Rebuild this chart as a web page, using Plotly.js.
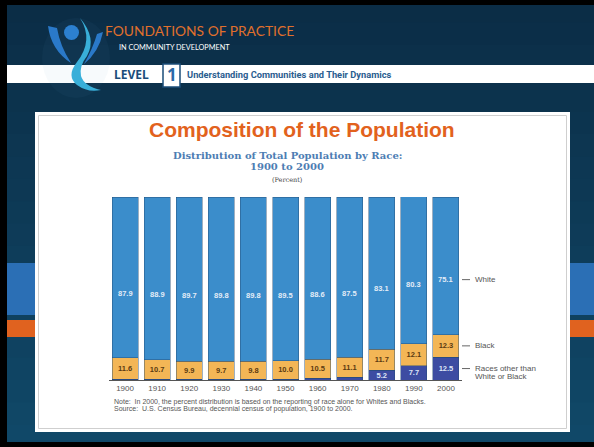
<!DOCTYPE html>
<html>
<head>
<meta charset="utf-8">
<script src="https://cdn.plot.ly/plotly-3.0.1.min.js"></script>
<style>html,body{margin:0;padding:0;background:#0d3a58;}#chart{width:594px;height:447px;}</style>
</head>
<body>
<div id="chart"></div>
<script>
// ---- data ----
const years = ['1900','1910','1920','1930','1940','1950','1960','1970','1980','1990','2000'];
const white = [87.9, 88.9, 89.7, 89.8, 89.8, 89.5, 88.6, 87.5, 83.1, 80.3, 75.1];
const black = [11.6, 10.7, 9.9, 9.7, 9.8, 10.0, 10.5, 11.1, 11.7, 12.1, 12.3];
const other = [0.5, 0.4, 0.4, 0.5, 0.4, 0.5, 0.9, 1.4, 5.2, 7.7, 12.5];
const seriesNames = ['White', 'Black', 'Races other than', 'White or Black'];

const W = 594, H = 447;
const px = x => x / W;
const py = y => 1 - y / H;
const pt = (x, y) => px(x) + ',' + py(y);

const blueC = '#3b8dcb', orangeC = '#f3b656', indigoC = '#3d4ca2';
const edge = 'rgba(35,75,115,0.55)';

const traces = [
  {type:'bar', x: years, y: other, name: 'other',
   marker:{color: indigoC, line:{color: edge, width: 0.8}},
   text: other.map(v => v >= 2 ? v.toFixed(1) : ''), textposition:'inside', insidetextanchor:'middle',
   constraintext:'none', textangle:0,
   textfont:{family:'Liberation Sans', size:7.5, color:'#dfe6f7', weight:'bold'}, hoverinfo:'skip'},
  {type:'bar', x: years, y: black, name: 'black',
   marker:{color: orangeC, line:{color: edge, width: 0.8}},
   text: black.map(v => v.toFixed(1)), textposition:'inside', insidetextanchor:'middle',
   constraintext:'none', textangle:0,
   textfont:{family:'Liberation Sans', size:7.5, color:'#5b3b12', weight:'bold'}, hoverinfo:'skip'},
  {type:'bar', x: years, y: white, name: 'white',
   marker:{color: blueC, line:{color: edge, width: 0.8}}, hoverinfo:'skip'}
];

const annotations = [];
// white value labels (placed in lower part of the white segment)
years.forEach((yr, i) => {
  annotations.push({xref:'x', yref:'y', x: i, y: other[i] + black[i] + white[i] * 0.4,
    text: white[i].toFixed(1), showarrow:false, xanchor:'center', yanchor:'middle',
    font:{family:'Liberation Sans', size:7.5, color:'#e3ecf7', weight:'bold'}});
});
// right-side labels
const last = years.length - 1;
const yWhite = other[last] + black[last] + white[last] * 0.4;
const yBlack = other[last] + black[last] / 2;
const yOther = other[last] / 2;
const legFont = {family:'Liberation Sans', size:8, color:'#555'};
annotations.push({xref:'paper', yref:'y', x: px(473), y: yWhite, text: seriesNames[0], showarrow:false, xanchor:'left', yanchor:'middle', font: legFont});
annotations.push({xref:'paper', yref:'y', x: px(473), y: yBlack, text: seriesNames[1], showarrow:false, xanchor:'left', yanchor:'middle', font: legFont});
annotations.push({xref:'paper', yref:'y', x: px(473), y: yOther, text: seriesNames[2], showarrow:false, xanchor:'left', yanchor:'middle', font: legFont});
annotations.push({xref:'paper', yref:'y', x: px(473), y: yOther, yshift:-8, text: seriesNames[3], showarrow:false, xanchor:'left', yanchor:'middle', font: legFont});

// titles / texts
const A = (x, y, text, font, xanchor) => annotations.push({xref:'paper', yref:'paper', x: px(x), y: py(y), text, showarrow:false, xanchor: xanchor || 'left', yanchor:'middle', font});
A(302, 130, '<b>Composition of the Population</b>', {family:'Liberation Sans', size:21, color:'#e2621d'}, 'center');
A(287, 156, '<b>Distribution of Total Population by Race:</b>', {family:'DejaVu Serif', size:10, color:'#4d7db3'}, 'center');
A(287, 166, '<b>1900 to 2000</b>', {family:'DejaVu Serif', size:10, color:'#4d7db3'}, 'center');
A(287, 180, '(Percent)', {family:'DejaVu Serif', size:6.5, color:'#444'}, 'center');
A(112, 402, 'Note:  In 2000, the percent distribution is based on the reporting of race alone for Whites and Blacks.', {family:'Liberation Sans', size:7, color:'#555'});
A(112, 409, 'Source:  U.S. Census Bureau, decennial census of population, 1900 to 2000.', {family:'Liberation Sans', size:7, color:'#555'});
// header
A(103, 30, 'FOUNDATIONS OF PRACTICE', {family:'Lato', size:13.8, color:'#e0702c'});
A(117, 47, 'IN COMMUNITY DEVELOPMENT', {family:'Lato', size:7.3, color:'#ffffff'});
A(112, 74, '<b>LEVEL</b>', {family:'Open Sans', size:12, color:'#1b4d7a'});
A(171.5, 75, '<b>1</b>', {family:'Open Sans', size:17, color:'#2a6aa8'}, 'center');
A(185, 74, '<b>Understanding Communities and Their Dynamics</b>', {family:'Roboto', size:9.3, color:'#2a5d8f'});

const R = (x0, y0, x1, y1, color, extra) => Object.assign({type:'rect', xref:'paper', yref:'paper', x0: px(x0), x1: px(x1), y0: py(y1), y1: py(y0), fillcolor: color, line:{width:0}, layer:'below'}, extra || {});
const P = (pts, color) => ({type:'path', xref:'paper', yref:'paper', path: pts, fillcolor: color, line:{width:0}, layer:'below'});

// soft vertical gradient for the slide background
const bg = [];
const c0 = [11, 45, 70], c1 = [16, 72, 104];
for (let k = 0; k < 20; k++) {
  const t = k / 19;
  const c = c0.map((v, j) => Math.round(v + (c1[j] - v) * t));
  bg.push(R(0, k * 447 / 20, 594, (k + 1) * 447 / 20 + 1, 'rgb(' + c.join(',') + ')'));
}

const shapes = bg.concat([
  R(7, 263, 594, 315, '#2b6fb5'),
  R(7, 320, 594, 337, '#e0621f'),
  R(7, 65, 594, 83, '#ffffff'),
  R(0, 0, 7, 447, '#000000'),
  R(0, 0, 594, 5, '#000000'),
  R(0, 442, 594, 447, '#000000'),
  // logo
  {type:'circle', xref:'paper', yref:'paper', x0: px(42), x1: px(110), y0: py(98), y1: py(18), fillcolor:'rgba(90,150,200,0.05)', line:{width:0}, layer:'below'},
  P('M' + pt(80,18) + ' Q' + pt(94,40) + ' ' + pt(77,62) + ' Q' + pt(66,76) + ' ' + pt(77,85) + ' Q' + pt(88,93) + ' ' + pt(101,90) + ' Q' + pt(84,86) + ' ' + pt(81,76) + ' Q' + pt(79,66) + ' ' + pt(87,56) + ' Q' + pt(97,38) + ' ' + pt(80,18) + ' Z', '#39afd9'),
  P('M' + pt(48,26) + ' Q' + pt(51,50) + ' ' + pt(71,63) + ' Q' + pt(60,46) + ' ' + pt(57,28) + ' Z', '#2a79c9'),
  P('M' + pt(103,32) + ' Q' + pt(99,52) + ' ' + pt(84,64) + ' Q' + pt(93,48) + ' ' + pt(97,34) + ' Z', '#2a79c9'),
  {type:'circle', xref:'paper', yref:'paper', x0: px(64), x1: px(79), y0: py(40), y1: py(25), fillcolor:'#2c80d0', line:{width:0}, layer:'below'},
  // level box
  R(163, 64, 180, 87, '#ffffff', {line:{color:'#1b4d7a', width:1.5}}),
  // panel
  R(35, 112, 570, 432, '#ffffff'),
  R(38.5, 115.5, 566.5, 428.5, 'rgba(0,0,0,0)', {line:{color:'#cfcfcf', width:1}}),
  // legend dashes
  {type:'line', xref:'paper', yref:'y', x0: px(462), x1: px(470), y0: yWhite, y1: yWhite, line:{color:'#666', width:1}},
  {type:'line', xref:'paper', yref:'y', x0: px(462), x1: px(470), y0: yBlack, y1: yBlack, line:{color:'#666', width:1}},
  {type:'line', xref:'paper', yref:'y', x0: px(462), x1: px(470), y0: yOther, y1: yOther, line:{color:'#666', width:1}}
]);

const layout = {
  width: W, height: H,
  margin:{l:0, r:0, t:0, b:0},
  paper_bgcolor:'#0d3a58', plot_bgcolor:'rgba(0,0,0,0)',
  barmode:'stack', bargap: 0.19, showlegend:false,
  xaxis:{domain:[px(109), px(462)], type:'category', range:[-0.5, 10.5], showgrid:false, zeroline:false,
    showline:true, linecolor:'#555', linewidth:1, ticks:'', tickfont:{family:'Liberation Sans', size:8, color:'#555'}, fixedrange:true},
  yaxis:{domain:[py(380), py(197)], range:[0, 100], visible:false, fixedrange:true},
  shapes, annotations
};

Plotly.newPlot('chart', traces, layout, {displayModeBar:false, staticPlot:true});
</script>
</body>
</html>
